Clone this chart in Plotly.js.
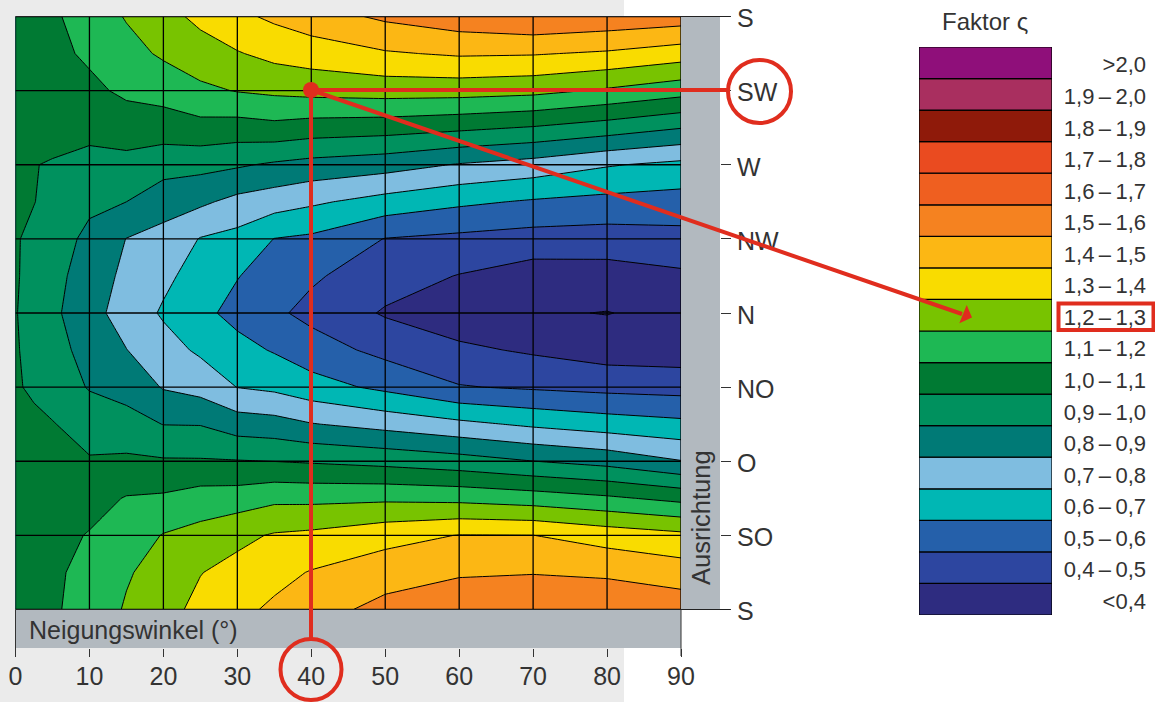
<!DOCTYPE html>
<html><head><meta charset="utf-8">
<script src="https://cdn.plot.ly/plotly-3.0.1.min.js"></script>
<style>html,body{margin:0;padding:0;background:#fff}#c{width:1155px;height:702px}</style>
</head><body><div id="c"></div>
<script>
// Tilt angle columns and orientation rows
const tilt = [0,2.5,5,10,15,20,25,30,35,40,50,60,70,80,90];
const orientationPos = [0,0.5,1,1.5,2,2.5,3,3.5,4,4.5,5,5.5,6,6.5,7,7.5,8];
const orientationTicks = [0,1,2,3,4,5,6,7,8];
const orientationLabels = ['S','SW','W','NW','N','NO','O','SO','S'];
const tiltTicks = [0,10,20,30,40,50,60,70,80,90];

// Factor values per tilt angle, from top (S) to bottom (S)
const f00 = [1.03,1.03,1.03,1.03,1.03,1.02,1.01,1.01,1.005,1.01,1.01,1.02,1.03,1.03,1.03,1.03,1.03];
const f025 = [1.06,1.055,1.045,1.03,1.002,1.003,.972,.965,.96,.965,.985,1.02,1.025,1.035,1.05,1.06,1.06];
const f05 = [1.085,1.075,1.055,1.025,.995,.965,.936,.928,.921,.9375,.948,1.006,1.015,1.04,1.07,1.085,1.085];
const f10 = [1.144,1.116,1.078,1.026,.972,.915,.882,.858,.834,.864,.894,.95,1.01,1.064,1.106,1.126,1.145];
const f15 = [1.207,1.167,1.119,1.048,.970,.9,.798,.775,.758,.802,.866,.935,1.018,1.106,1.149,1.191,1.209];
const f20 = [1.268,1.214,1.141,1.047,.942,.838,.77,.722,.688,.739,.793,.898,1.01,1.115,1.205,1.236,1.268];
const f25 = [1.323,1.259,1.179,1.068,.93,.818,.695,.66,.625,.684,.764,.896,1.009,1.145,1.233,1.297,1.325];
const f30 = [1.379,1.293,1.205,1.058,.912,.771,.669,.604,.57,.632,.698,.85,1.005,1.15,1.276,1.331,1.374];
const f35 = [1.418,1.329,1.22,1.072,.886,.745,.598,.557,.518,.592,.679,.838,.999,1.178,1.309,1.369,1.418];
const f40 = [1.456,1.349,1.232,1.054,.866,.716,.582,.514,.472,.545,.639,.805,.99,1.176,1.321,1.406,1.46];
const f50 = [1.518,1.39,1.243,1.043,.841,.662,.497,.444,.39,.472,.578,.766,.97,1.182,1.365,1.457,1.53];
const f60 = [1.561,1.412,1.242,1.02,.793,.619,.477,.396,.34,.419,.506,.724,.942,1.173,1.403,1.488,1.574];
const f70 = [1.592,1.407,1.228,.993,.76,.589,.459,.351,.31,.387,.487,.683,.901,1.15,1.401,1.495,1.59];
const f80 = [1.572,1.387,1.187,.953,.708,.571,.453,.357,.297,.352,.471,.65,.866,1.117,1.357,1.483,1.585];
const f90 = [1.552,1.348,1.14,.904,.675,.56,.467,.383,.33,.345,.462,.625,.804,1.073,1.324,1.449,1.561];
const columns = [f00,f025,f05,f10,f15,f20,f25,f30,f35,f40,f50,f60,f70,f80,f90];
const z = orientationPos.map((_,r)=>columns.map(c=>c[r]));

// Legend, bottom to top
const legendLabels = ['<0,4','0,4\u2009–\u20090,5','0,5\u2009–\u20090,6','0,6\u2009–\u20090,7','0,7\u2009–\u20090,8','0,8\u2009–\u20090,9','0,9\u2009–\u20091,0','1,0\u2009–\u20091,1','1,1\u2009–\u20091,2','1,2\u2009–\u20091,3','1,3\u2009–\u20091,4','1,4\u2009–\u20091,5','1,5\u2009–\u20091,6','1,6\u2009–\u20091,7','1,7\u2009–\u20091,8','1,8\u2009–\u20091,9','1,9\u2009–\u20092,0','>2,0'];
const legendColors = ['#2e2c80','#2d46a0','#2560aa','#00b7b4','#7fbde0','#007a76','#00915e','#007a33','#1eb854','#78c300','#f9dc00','#fcb714','#f58220','#ef5f20','#ea4b20','#8f1a0a','#a92f5f','#8f0f7a'];
const legendOnes = legendLabels.map(()=>1);

const W=1155,H=702;
const px=x=>x/W, py=y=>1-y/H;
const FONT='"Liberation Sans", Arial, sans-serif', INK='#333';
const RED='#e02d1e', BAND='#b2b9bf', GRID='#000';

// Colours for levels: the band under 0.3 and the band 0.3–0.4 share the "<0,4" colour
const scaleColors=[legendColors[0]].concat(legendColors);
const colorscale=scaleColors.map((c,i)=>[i/(scaleColors.length-1),c]);

const contour={type:'contour',x:tilt,y:orientationPos,z:z,zmin:0.25,zmax:2.05,
  colorscale:colorscale,showscale:false,autocontour:false,
  contours:{start:0.3,end:2.0,size:0.1,coloring:'fill',showlines:true},
  line:{color:'#000',width:1,smoothing:0},hoverinfo:'x+y+z',xaxis:'x',yaxis:'y'};
const legendBars={type:'bar',orientation:'h',x:legendOnes,y:legendLabels,
  marker:{color:legendColors,line:{color:'#000',width:1.2}},xaxis:'x2',yaxis:'y2',hoverinfo:'y',showlegend:false};

const rectP=(x0,y0,x1,y1,fill,layer)=>({type:'rect',xref:'paper',yref:'paper',x0:px(x0),x1:px(x1),y0:py(y0),y1:py(y1),fillcolor:fill,line:{width:0},layer:layer||'below'});
const lineP=(x0,y0,x1,y1,color,w)=>({type:'line',xref:'paper',yref:'paper',x0:px(x0),x1:px(x1),y0:py(y0),y1:py(y1),line:{color:color,width:w},layer:'above'});
const circP=(cx,cy,r,w)=>({type:'circle',xref:'paper',yref:'paper',x0:px(cx-r),x1:px(cx+r),y0:py(cy-r),y1:py(cy+r),line:{color:RED,width:w},layer:'above'});

const shapes=[
  rectP(0,0,624,702,'#ebebeb'),
  rectP(15.5,609.5,681,648,BAND),
  rectP(681,16.5,720,609.5,BAND)
];
tiltTicks.forEach(t=>shapes.push({type:'line',xref:'x',yref:'y',x0:t,x1:t,y0:0,y1:8,line:{color:GRID,width:1.3},layer:'above'}));
orientationTicks.forEach(o=>shapes.push({type:'line',xref:'x',yref:'y',x0:0,x1:90,y0:o,y1:o,line:{color:GRID,width:1.3},layer:'above'}));
shapes.push(
  lineP(15.5,16.5,730,16.5,'#222',1.2), lineP(15.5,609.5,730,609.5,'#222',1.2),
  lineP(15.5,609.5,15.5,656,'#333',1), lineP(681,609.5,681,656,'#333',1),
  // red callouts
  lineP(311,90,311,640,RED,4), lineP(311,90,727,90,RED,4), lineP(311,90,962,314,RED,4),
  {type:'circle',xref:'paper',yref:'paper',x0:px(303),x1:px(319),y0:py(82),y1:py(98),fillcolor:RED,line:{width:0},layer:'above'},
  {type:'path',xref:'paper',yref:'paper',path:`M ${px(972)} ${py(317.5)} L ${px(966.7)} ${py(305)} L ${px(959.3)} ${py(323.3)} Z`,fillcolor:RED,line:{width:0},layer:'above'},
  circP(759.5,91.5,31.5,4), circP(311,669.5,30.5,4),
  {type:'rect',xref:'paper',yref:'paper',x0:px(1058.5),x1:px(1153.5),y0:py(303.5),y1:py(330),line:{color:RED,width:4},layer:'above'}
);

const layout={width:W,height:H,margin:{l:0,r:0,t:0,b:0,pad:0},paper_bgcolor:'#fff',plot_bgcolor:'rgba(0,0,0,0)',
  font:{family:FONT,color:INK,size:25},showlegend:false,bargap:0,
  xaxis:{domain:[px(15.5),px(681)],range:[0,90],anchor:'free',position:py(648),side:'bottom',tickvals:tiltTicks,
    ticks:'outside',ticklen:8,tickwidth:1,tickcolor:'#333',showgrid:false,zeroline:false,showline:false,tickfont:{size:25,color:INK},ticklabelstandoff:-2},
  yaxis:{domain:[py(609.5),py(16.5)],range:[8,0],anchor:'free',position:px(720),side:'right',tickvals:orientationTicks,ticktext:orientationLabels,
    ticks:'outside',ticklen:10,tickwidth:1,tickcolor:'#333',showgrid:false,zeroline:false,showline:false,tickfont:{size:25,color:INK},ticklabelstandoff:1,ticklabelshift:-2},
  xaxis2:{domain:[px(919),px(1052)],range:[0,1],anchor:'y2',visible:false,fixedrange:true},
  yaxis2:{domain:[py(615),py(47)],range:[-0.5,17.5],anchor:'free',position:px(1146),side:'left',type:'category',
    categoryorder:'array',categoryarray:legendLabels,ticks:'',showgrid:false,zeroline:false,showline:false,tickfont:{size:22,color:INK},ticklabelshift:2},
  shapes:shapes,
  annotations:[
    {xref:'paper',yref:'paper',x:px(26.5),y:py(630),xanchor:'left',yanchor:'middle',text:'Neigungswinkel (°)',showarrow:false,font:{size:25,color:INK}},
    {xref:'paper',yref:'paper',x:px(701),y:py(518),xanchor:'center',yanchor:'middle',text:'Ausrichtung',textangle:-90,showarrow:false,font:{size:25.5,color:INK}},
    {xref:'paper',yref:'paper',x:px(984.5),y:py(21),xanchor:'center',yanchor:'middle',text:'Faktor ς',showarrow:false,font:{size:24,color:INK}}
  ]
};
Plotly.newPlot('c',[contour,legendBars],layout,{displayModeBar:false,staticPlot:true});
</script></body></html>
